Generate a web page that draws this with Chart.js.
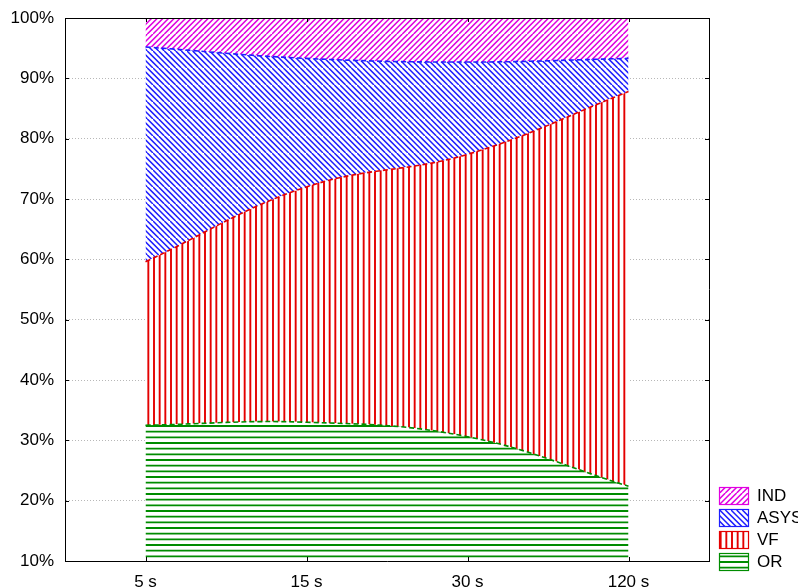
<!DOCTYPE html>
<html>
<head>
<meta charset="utf-8">
<style>
  html, body { margin: 0; padding: 0; background: #ffffff; }
  #wrap { width: 798px; height: 588px; }
</style>
<script src="https://cdn.jsdelivr.net/npm/chart.js@4.4.1/dist/chart.umd.min.js"></script>
</head>
<body>
<div id="wrap"><canvas id="c" width="798" height="588"></canvas></div>
<script>
// Time points after onset
const categories = ['5 s', '15 s', '30 s', '120 s'];

// Share of each rhythm (percent), stacked from the bottom
const seriesOR   = [32.5, 33.0, 30.6, 22.4];
const seriesVF   = [27.1, 39.0, 46.8, 65.4];
const seriesASYS = [35.6, 21.3, 15.3, 5.5];
const seriesIND  = [4.8, 6.7, 7.3, 6.7];

const seriesNames = ['OR', 'VF', 'ASYS', 'IND'];
const yTicks = [10, 20, 30, 40, 50, 60, 70, 80, 90, 100];

const COLORS = {
  OR: 'rgb(0,140,0)',
  VF: 'rgb(228,0,0)',
  ASYS: 'rgb(30,30,255)',
  IND: 'rgb(225,0,225)'
};

// Hatch fills: a 17px tile repeats cleanly at the chosen line spacing
function hatch(color, kind) {
  const S = 17;
  const cv = document.createElement('canvas');
  cv.width = S; cv.height = S;
  const g = cv.getContext('2d');
  g.fillStyle = '#ffffff';
  g.fillRect(0, 0, S, S);
  g.strokeStyle = color;
  g.lineWidth = 1.9;
  g.beginPath();
  const p = S / 3;
  if (kind === 'v' || kind === 'h') {
    for (let i = 0; i < 3; i++) {
      const o = i * p + 1;
      if (kind === 'v') { g.moveTo(o, 0); g.lineTo(o, S); }
      else { g.moveTo(0, o); g.lineTo(S, o); }
    }
  } else {
    g.lineWidth = 1.5;
    for (let o = -S; o <= S; o += p) {
      if (kind === '/') { g.moveTo(o, S); g.lineTo(o + S, 0); }
      else { g.moveTo(o, 0); g.lineTo(o + S, S); }
    }
  }
  g.stroke();
  return g.createPattern(cv, 'repeat');
}

const fills = {
  OR: hatch(COLORS.OR, 'h'),
  VF: hatch(COLORS.VF, 'v'),
  ASYS: hatch(COLORS.ASYS, '\\'),
  IND: hatch(COLORS.IND, '/')
};

const values = { OR: seriesOR, VF: seriesVF, ASYS: seriesASYS, IND: seriesIND };

const datasets = seriesNames.map((name, i) => ({
  label: name,
  data: values[name],
  backgroundColor: fills[name],
  borderColor: COLORS[name],
  borderWidth: name === 'IND' ? 0 : 1.6,
  borderDash: [5, 3],
  pointRadius: 0,
  tension: 0.4,
  fill: i === 0 ? 'start' : '-1'
}));

const FONT = { family: '"Liberation Sans", Arial, sans-serif', size: 17 };

// Box frame, inward tick marks and the legend in the lower right
const framePlugin = {
  id: 'frame',
  afterDraw(chart) {
    const { ctx, chartArea: a, scales } = chart;
    ctx.save();
    ctx.strokeStyle = '#000000';
    ctx.lineWidth = 1;
    ctx.beginPath();
    ctx.moveTo(a.left, a.top + 0.5); ctx.lineTo(a.right + 0.5, a.top + 0.5);
    ctx.moveTo(a.right + 0.5, a.top); ctx.lineTo(a.right + 0.5, a.bottom);
    scales.y.ticks.forEach(t => {
      const y = Math.round(scales.y.getPixelForValue(t.value)) + 0.5;
      ctx.moveTo(a.left, y); ctx.lineTo(a.left + 4, y);
      ctx.moveTo(a.right, y); ctx.lineTo(a.right - 4, y);
    });
    categories.forEach((c, i) => {
      const x = Math.round(scales.x.getPixelForValue(i)) + 0.5;
      ctx.moveTo(x, a.bottom); ctx.lineTo(x, a.bottom - 4);
      ctx.moveTo(x, a.top); ctx.lineTo(x, a.top + 4);
    });
    ctx.stroke();

    // legend
    const order = ['IND', 'ASYS', 'VF', 'OR'];
    const bx = 719, bw = 29, bh = 17;
    ctx.font = FONT.size + 'px ' + FONT.family;
    ctx.textBaseline = 'middle';
    ctx.textAlign = 'left';
    order.forEach((name, i) => {
      const by = 487 + i * 22;
      ctx.fillStyle = fills[name];
      ctx.fillRect(bx, by, bw, bh);
      ctx.strokeStyle = COLORS[name];
      ctx.lineWidth = 1.2;
      ctx.strokeRect(bx + 0.5, by + 0.5, bw, bh);
      ctx.fillStyle = '#000000';
      ctx.fillText(name, 757, by + bh / 2 + 1);
    });
    ctx.restore();
  }
};

new Chart(document.getElementById('c'), {
  type: 'line',
  data: { labels: categories, datasets },
  plugins: [framePlugin],
  options: {
    responsive: false,
    animation: false,
    layout: { padding: { top: 18, right: 89, left: 0, bottom: 0 } },
    plugins: { legend: { display: false }, tooltip: { enabled: false } },
    scales: {
      x: {
        offset: true,
        grid: { display: false, drawTicks: false },
        border: { display: true, color: '#000000', width: 1 },
        ticks: { color: '#000000', font: FONT, padding: 11, maxRotation: 0 },
        afterFit(s) { s.height = 27; s.paddingLeft = 0; s.paddingRight = 0; }
      },
      y: {
        stacked: true,
        min: 10,
        max: 100,
        afterBuildTicks(s) { s.ticks = yTicks.map(v => ({ value: v })); },
        grid: { color: '#b8b8b8', drawTicks: false },
        border: { display: true, color: '#000000', width: 1, dash: [1, 2] },
        ticks: {
          color: '#000000', font: FONT, padding: 11,
          callback: v => v + '%'
        },
        afterFit(s) { s.width = 65; s.paddingTop = 0; s.paddingBottom = 0; }
      }
    }
  }
});
</script>
</body>
</html>
